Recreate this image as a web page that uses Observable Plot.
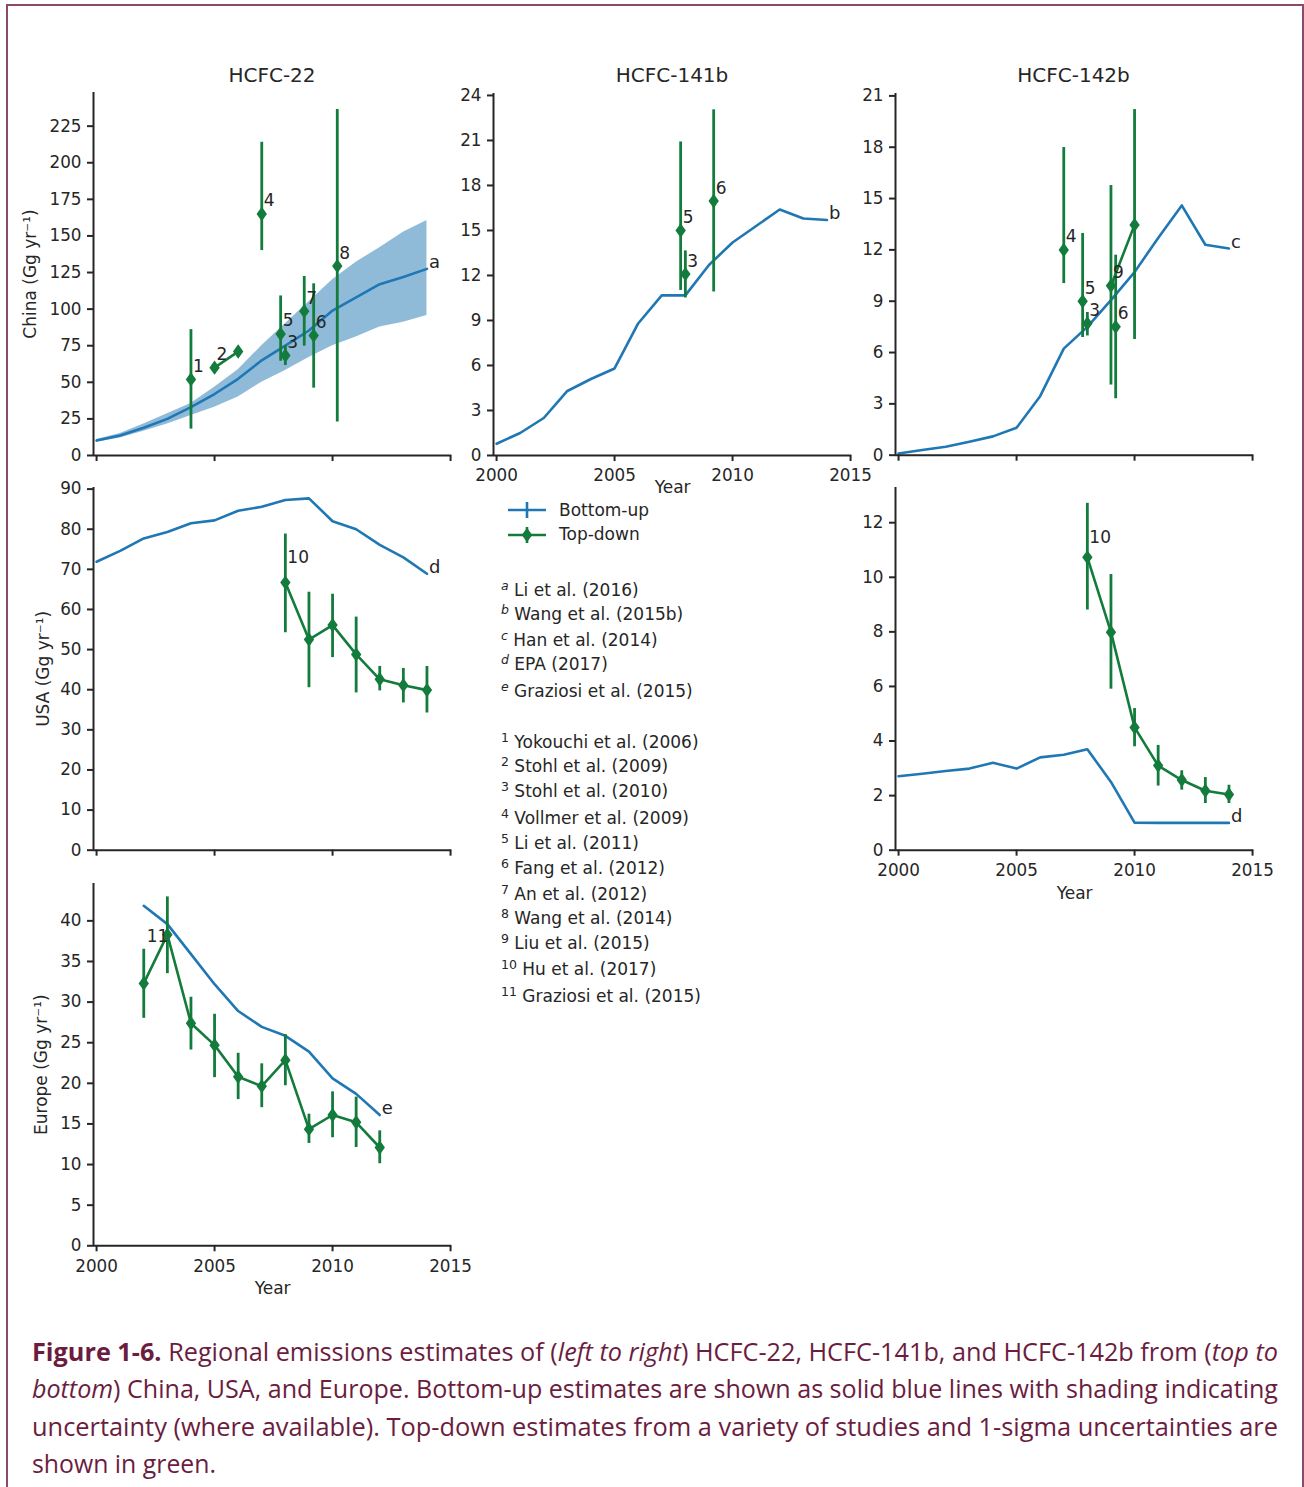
<!DOCTYPE html>
<html>
<head>
<meta charset="utf-8">
<script src="https://cdn.jsdelivr.net/npm/d3@7"></script>
<script src="https://cdn.jsdelivr.net/npm/@observablehq/plot@0.6"></script>
<style>
  body { margin: 0; background: #fff; }
  #fig { position: relative; width: 1304px; height: 1487px; overflow: hidden; background: #fff;
         font-family: "DejaVu Sans", sans-serif; color: #262626; }
  .frame { position: absolute; left: 6px; top: 4px; width: 1298px; height: 1600px; box-sizing: border-box;
           border: 2px solid #8c4a68; border-bottom: none; }
  .title { position: absolute; font-size: 20px; transform: translate(-50%, -50%); white-space: nowrap; }
  .leg { position: absolute; font-size: 17px; white-space: nowrap; line-height: 20px; }
  .ref { position: absolute; left: 501px; font-size: 17px; white-space: nowrap; line-height: 20px; }
  .ref sup { font-size: 12.5px; vertical-align: 6px; line-height: 0; }
  .ref sup.it { font-style: italic; }
  .cap { position: absolute; left: 32px; font-family: "Open Sans", "Noto Sans", sans-serif; font-size: 25px;
         line-height: 37px; color: #6b1d3f; white-space: nowrap; transform-origin: 0 50%; }
</style>
</head>
<body>
<div id="fig"></div>
<script>
// ---------------- data ----------------
const years = [2000, 2001, 2002, 2003, 2004, 2005, 2006, 2007, 2008, 2009, 2010, 2011, 2012, 2013, 2014];
const europeYears = [2002, 2003, 2004, 2005, 2006, 2007, 2008, 2009, 2010, 2011, 2012];
const xTicks = [2000, 2005, 2010, 2015];

// bottom-up estimates (Gg/yr)
const chinaHcfc22BottomUp = [10.2, 13.7, 19, 25, 33, 42, 52.4, 65, 75, 85.4, 99, 108, 117, 122, 127.5];
const chinaHcfc22Low      = [9, 12, 16.5, 21.5, 27.3, 33, 40, 50, 58, 67, 75, 81, 87.7, 91, 95.7];
const chinaHcfc22High     = [11, 15, 21.5, 28.5, 35.5, 46.7, 58.5, 75, 90, 105, 120, 132, 142, 152.6, 160.5];
const chinaHcfc141bBottomUp = [0.78, 1.5, 2.5, 4.3, 5.1, 5.8, 8.8, 10.67, 10.67, 12.7, 14.2, 15.3, 16.4, 15.8, 15.7];
const chinaHcfc142bBottomUp = [0.1, 0.3, 0.49, 0.78, 1.1, 1.6, 3.45, 6.23, 7.5, 9.06, 10.7, 12.7, 14.6, 12.3, 12.08];
const usaHcfc22BottomUp  = [71.9, 74.6, 77.7, 79.3, 81.5, 82.2, 84.6, 85.6, 87.3, 87.7, 82.0, 80.0, 76.1, 73.0, 68.9];
const usaHcfc142bBottomUp = [2.71, 2.8, 2.9, 2.99, 3.2, 2.99, 3.4, 3.5, 3.7, 2.5, 1.01, 1.0, 1.0, 1.0, 1.0];
const europeHcfc22BottomUp = [41.85, 39.6, 35.9, 32.2, 28.9, 26.95, 25.85, 23.9, 20.6, 18.7, 16.1];

// top-down estimates: [study ref, year, value, low (1-sigma), high (1-sigma)]
const chinaHcfc22TopDown = [
  ["1", 2004.0, 52, 18, 86],
  ["2", 2005.0, 60, 57.5, 62.5], ["2", 2006.0, 71, 68.5, 73.5],
  ["4", 2007.0, 165, 140, 214],
  ["5", 2007.8, 83, 64.4, 109],
  ["3", 2008.0, 68.3, 61.5, 75],
  ["7", 2008.8, 98.6, 74.7, 122.3],
  ["6", 2009.2, 82, 46, 117.3],
  ["8", 2010.2, 129.4, 22.8, 236.4]
];
const chinaHcfc141bTopDown = [
  ["5", 2007.8, 15, 11.0, 20.9],
  ["3", 2008.0, 12.09, 10.5, 13.64],
  ["6", 2009.2, 16.96, 10.9, 23.04]
];
const chinaHcfc142bTopDown = [
  ["4", 2007.0, 12, 10.03, 17.98],
  ["5", 2007.8, 9.0, 6.88, 12.96],
  ["3", 2008.0, 7.7, 6.97, 8.34],
  ["9", 2009.0, 9.9, 4.1, 15.76], ["9", 2010.0, 13.46, 6.76, 20.2],
  ["6", 2009.2, 7.5, 3.3, 11.69]
];
const usaHcfc22TopDown = [
  ["10", 2008, 66.7, 54.2, 78.8], ["10", 2009, 52.5, 40.5, 64.3], ["10", 2010, 56.1, 48.0, 63.8],
  ["10", 2011, 48.8, 39.2, 58.1], ["10", 2012, 42.6, 39.7, 45.8], ["10", 2013, 41.1, 36.7, 45.3],
  ["10", 2014, 39.9, 34.2, 45.8]
];
const usaHcfc142bTopDown = [
  ["10", 2008, 10.73, 8.8, 12.71], ["10", 2009, 7.99, 5.9, 10.1], ["10", 2010, 4.5, 3.79, 5.19],
  ["10", 2011, 3.1, 2.35, 3.84], ["10", 2012, 2.57, 2.2, 2.91], ["10", 2013, 2.18, 1.71, 2.66],
  ["10", 2014, 2.04, 1.71, 2.38]
];
const europeHcfc22TopDown = [
  ["11", 2002, 32.3, 28.0, 36.5], ["11", 2003, 38.3, 33.5, 42.95], ["11", 2004, 27.4, 24.1, 30.6],
  ["11", 2005, 24.7, 20.7, 28.5], ["11", 2006, 20.8, 18.0, 23.7], ["11", 2007, 19.65, 17.0, 22.4],
  ["11", 2008, 22.85, 19.7, 26.0], ["11", 2009, 14.36, 12.6, 16.2], ["11", 2010, 16.1, 13.3, 18.95],
  ["11", 2011, 15.2, 12.1, 18.3], ["11", 2012, 12.1, 10.1, 14.15]
];

// y tick values
const chinaHcfc22Ticks = [0, 25, 50, 75, 100, 125, 150, 175, 200, 225];
const chinaHcfc141bTicks = [0, 3, 6, 9, 12, 15, 18, 21, 24];
const chinaHcfc142bTicks = [0, 3, 6, 9, 12, 15, 18, 21];
const usaHcfc22Ticks = [0, 10, 20, 30, 40, 50, 60, 70, 80, 90];
const usaHcfc142bTicks = [0, 2, 4, 6, 8, 10, 12];
const europeHcfc22Ticks = [0, 5, 10, 15, 20, 25, 30, 35, 40];

// text
const compounds = ["HCFC-22", "HCFC-141b", "HCFC-142b"];
const regionLabels = ["China (Gg yr\u207B\u00B9)", "USA (Gg yr\u207B\u00B9)", "Europe (Gg yr\u207B\u00B9)"];
const legendLabels = ["Bottom-up", "Top-down"];
const bottomUpRefKeys = ["a", "b", "c", "d", "e"];
const bottomUpRefs = ["Li et al. (2016)", "Wang et al. (2015b)", "Han et al. (2014)", "EPA (2017)", "Graziosi et al. (2015)"];
const topDownRefKeys = ["1", "2", "3", "4", "5", "6", "7", "8", "9", "10", "11"];
const topDownRefs = ["Yokouchi et al. (2006)", "Stohl et al. (2009)", "Stohl et al. (2010)", "Vollmer et al. (2009)",
  "Li et al. (2011)", "Fang et al. (2012)", "An et al. (2012)", "Wang et al. (2014)", "Liu et al. (2015)",
  "Hu et al. (2017)", "Graziosi et al. (2015)"];

// ---------------- drawing ----------------
const BLUE = "#1f77b4", GREEN = "#137b3b", INK = "#262626";
const X_DOMAIN = [1999.87, 2015.05];
const PXY = 23.6; // px per year
const fig = document.getElementById("fig");

const thinDiamond = {
  draw(context, size) {
    const r = Math.sqrt(size / Math.PI);
    const w = r * 0.72;
    context.moveTo(0, -r);
    context.lineTo(w, 0);
    context.lineTo(0, r);
    context.lineTo(-w, 0);
    context.closePath();
  }
};

function makePanel(cfg) {
  const mL = 100, mR = 45, mT = 30, mB = 60;
  const axisX = cfg.x2000 - (2000 - X_DOMAIN[0]) * PXY;
  const frameW = (X_DOMAIN[1] - X_DOMAIN[0]) * PXY;
  const frameH = cfg.bottom - cfg.top;
  const width = mL + frameW + mR;
  const height = mT + frameH + mB;
  const marks = [];
  if (cfg.low) {
    marks.push(Plot.areaY(cfg.years, {x: cfg.years, y1: cfg.low, y2: cfg.high, fill: BLUE, fillOpacity: 0.5}));
  }
  marks.push(Plot.line(cfg.years, {x: cfg.years, y: cfg.bu, stroke: BLUE, strokeWidth: 2.6}));
  const td = cfg.td;
  const multi = td.filter(d => td.filter(e => e[0] === d[0]).length > 1);
  marks.push(Plot.line(multi, {x: d => d[1], y: d => d[2], z: d => d[0], stroke: GREEN, strokeWidth: 2.6}));
  marks.push(Plot.ruleX(td, {x: d => d[1], y1: d => d[3], y2: d => d[4], stroke: GREEN, strokeWidth: 2.8}));
  marks.push(Plot.dot(td, {x: d => d[1], y: d => d[2], symbol: thinDiamond, r: 7.2, fill: GREEN, stroke: "none"}));

  // bottom-up source letter at end of line
  const n = cfg.years.length;
  marks.push(Plot.text([cfg.letter], {x: () => cfg.years[n - 1], y: () => cfg.bu[n - 1], text: d => d,
    dx: 2, dy: -6.5, textAnchor: "start", lineAnchor: "middle", fontSize: 18}));
  // top-down study numbers
  const refs = [...new Set(td.map(d => d[0]))];
  for (const ref of refs) {
    const pts = td.filter(d => d[0] === ref);
    const o = Object.assign({at: 0, dx: 2, dy: -13, anchor: "start"}, (cfg.labelOpts || {})[ref]);
    const p = pts[o.at];
    marks.push(Plot.text([ref], {x: () => p[1], y: () => p[2], text: d => d, dx: o.dx, dy: o.dy,
      textAnchor: o.anchor, lineAnchor: "middle", fontSize: 17}));
  }

  // spines and axes
  marks.push(Plot.ruleY([0], {stroke: INK, strokeWidth: 2}));
  marks.push(Plot.ruleX([X_DOMAIN[0]], {stroke: INK, strokeWidth: 2}));
  marks.push(Plot.axisY(cfg.yTicks, {tickSize: 6, tickPadding: 6, strokeWidth: 2, fontSize: 16.8,
    label: null, tickFormat: d => String(d)}));
  marks.push(Plot.axisX(xTicks, {tickSize: 6, tickPadding: 8, strokeWidth: 2, fontSize: 16.8,
    label: null, tickFormat: cfg.xLabels ? (d => String(d)) : (() => "")}));
  if (cfg.xLabels) {
    marks.push(Plot.text(["Year"], {frameAnchor: "bottom", text: d => d, dy: cfg.yearDy,
      textAnchor: "middle", lineAnchor: "middle", fontSize: 17}));
  }
  if (cfg.yLabel) {
    marks.push(Plot.text([cfg.yLabel], {frameAnchor: "left", text: d => d, rotate: -90, dx: cfg.yLabelDx,
      textAnchor: "middle", lineAnchor: "middle", fontSize: 17}));
  }

  const svg = Plot.plot({
    width, height,
    marginLeft: mL, marginRight: mR, marginTop: mT, marginBottom: mB,
    x: {domain: X_DOMAIN},
    y: {domain: [0, cfg.yMax]},
    style: {
      position: "absolute", left: (axisX - mL) + "px", top: (cfg.top - mT) + "px",
      background: "transparent", overflow: "visible", maxWidth: "none",
      fontFamily: "DejaVu Sans", fontSize: "16.8px", color: INK
    },
    marks
  });
  fig.appendChild(svg);
}

// frame
const frame = document.createElement("div");
frame.className = "frame";
fig.appendChild(frame);

// panels
makePanel({x2000: 96, top: 92, bottom: 455, yMax: 248, yTicks: chinaHcfc22Ticks, years,
  bu: chinaHcfc22BottomUp, low: chinaHcfc22Low, high: chinaHcfc22High, td: chinaHcfc22TopDown,
  letter: "a", yLabel: regionLabels[0], yLabelDx: -63});
makePanel({x2000: 496, top: 93, bottom: 455, yMax: 24.13, yTicks: chinaHcfc141bTicks, years,
  bu: chinaHcfc141bBottomUp, td: chinaHcfc141bTopDown, letter: "b", xLabels: true, yearDy: 32});
makePanel({x2000: 897.7, top: 93.3, bottom: 455, yMax: 21.14, yTicks: chinaHcfc142bTicks, years,
  bu: chinaHcfc142bBottomUp, td: chinaHcfc142bTopDown, letter: "c"});
makePanel({x2000: 96, top: 487.3, bottom: 850, yMax: 90.4, yTicks: usaHcfc22Ticks, years,
  bu: usaHcfc22BottomUp, td: usaHcfc22TopDown, letter: "d", yLabel: regionLabels[1], yLabelDx: -50,
  labelOpts: {"10": {dy: -25}}});
makePanel({x2000: 897.7, top: 487.3, bottom: 850, yMax: 13.29, yTicks: usaHcfc142bTicks, years,
  bu: usaHcfc142bBottomUp, td: usaHcfc142bTopDown, letter: "d", xLabels: true, yearDy: 43,
  labelOpts: {"10": {dy: -20}}});
makePanel({x2000: 96, top: 882.7, bottom: 1245, yMax: 44.6, yTicks: europeHcfc22Ticks, years: europeYears,
  bu: europeHcfc22BottomUp, td: europeHcfc22TopDown, letter: "e", xLabels: true, yearDy: 43,
  yLabel: regionLabels[2], yLabelDx: -52, labelOpts: {"11": {at: 1, anchor: "end", dx: 1, dy: 2}}});

// titles
[[272, compounds[0]], [672, compounds[1]], [1073.5, compounds[2]]].forEach(([x, t]) => {
  const d = document.createElement("div");
  d.className = "title";
  d.style.left = x + "px"; d.style.top = "75px";
  d.textContent = t;
  fig.appendChild(d);
});

// legend
const legSvg = document.createElementNS("http://www.w3.org/2000/svg", "svg");
legSvg.setAttribute("width", 60); legSvg.setAttribute("height", 50);
legSvg.style.position = "absolute"; legSvg.style.left = "500px"; legSvg.style.top = "495px";
legSvg.innerHTML = `
  <line x1="8" x2="46" y1="15" y2="15" stroke="${BLUE}" stroke-width="2.6"/>
  <line x1="27" x2="27" y1="7" y2="23" stroke="${BLUE}" stroke-width="2.6"/>
  <line x1="8" x2="46" y1="40" y2="40" stroke="${GREEN}" stroke-width="2.6"/>
  <line x1="27" x2="27" y1="32" y2="48" stroke="${GREEN}" stroke-width="2.6"/>
  <path d="M27,32.8 L32.2,40 L27,47.2 L21.8,40Z" fill="${GREEN}"/>`;
fig.appendChild(legSvg);
legendLabels.forEach((t, i) => {
  const d = document.createElement("div");
  d.className = "leg";
  d.style.left = "559px"; d.style.top = (i === 0 ? 500 : 524) + "px";
  d.textContent = t;
  fig.appendChild(d);
});

// references
const buY = [590, 614, 640, 664, 691];
const tdY = [742, 766, 791, 818, 843, 868, 894, 918, 943, 969, 996];
bottomUpRefKeys.forEach((k, i) => {
  const d = document.createElement("div");
  d.className = "ref"; d.style.top = (buY[i] - 10) + "px";
  d.innerHTML = `<sup class="it">${k}</sup> ${bottomUpRefs[i]}`;
  fig.appendChild(d);
});
topDownRefKeys.forEach((k, i) => {
  const d = document.createElement("div");
  d.className = "ref"; d.style.top = (tdY[i] - 10) + "px";
  d.innerHTML = `<sup>${k}</sup> ${topDownRefs[i]}`;
  fig.appendChild(d);
});

// caption
const capLines = [
  `<b>Figure 1-6.</b> Regional emissions estimates of (<i>left to right</i>) HCFC-22, HCFC-141b, and HCFC-142b from (<i>top to</i>`,
  `<i>bottom</i>) China, USA, and Europe. Bottom-up estimates are shown as solid blue lines with shading indicating`,
  `uncertainty (where available). Top-down estimates from a variety of studies and 1-sigma uncertainties are`,
  `shown in green.`
];
const capWidths = [1246, 1246, 1246, 184];
const capEls = capLines.map((html, i) => {
  const d = document.createElement("div");
  d.className = "cap";
  d.style.top = (1333 + i * 37.3) + "px";
  d.innerHTML = html;
  fig.appendChild(d);
  return d;
});
function fitCaption() {
  capEls.forEach((el, i) => {
    el.style.transform = "none";
    const w = el.getBoundingClientRect().width;
    el.style.transform = `scaleX(${capWidths[i] / w})`;
  });
}
fitCaption();
if (document.fonts && document.fonts.ready) document.fonts.ready.then(fitCaption);
</script>
</body>
</html>
